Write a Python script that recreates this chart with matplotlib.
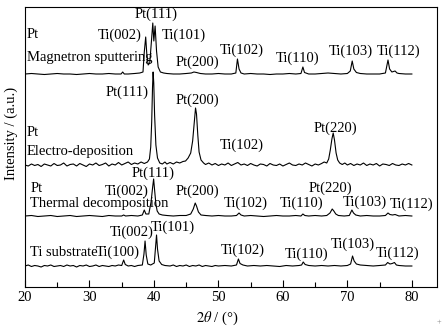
import numpy as np
import matplotlib
matplotlib.use('Agg')
import matplotlib.pyplot as plt

plt.rcParams['font.family'] = ['Liberation Serif', 'DejaVu Serif']
plt.rcParams['mathtext.fontset'] = 'stix'
plt.rcParams['font.size'] = 10.5

# XRD traces (2theta, stacked intensity)
magnetron = [(20, 213), (21, 213.5), (22, 213), (23, 212.5), (24, 213), (25, 213.5), (26, 213), (27, 213),
             (28, 212.5), (29, 213), (30, 213.5), (31, 213), (32, 213), (33, 213.5), (34, 213), (34.9, 213),
             (35.15, 215), (35.4, 213), (36, 213), (37, 213.5), (37.8, 214), (38.3, 215), (38.5, 235),
             (38.72, 250), (38.9, 232), (39.1, 222), (39.35, 224), (39.6, 245), (39.82, 264), (39.98, 246),
             (40.18, 261), (40.4, 236), (40.65, 220), (41.0, 215), (41.5, 214), (42, 213.5), (43, 213),
             (44, 213), (45, 213.5), (45.8, 214), (46.2, 215), (46.6, 214.5), (47.2, 213.5), (48, 213),
             (49, 213), (50, 213.5), (51, 213), (52, 213), (52.7, 214), (52.95, 228), (53.2, 218),
             (53.5, 214), (54, 213), (55, 213.5), (56, 213), (57, 213), (58, 212.5), (59, 213), (60, 213),
             (61, 213.5), (62, 213), (62.8, 213.5), (63.1, 220), (63.35, 214.5), (64, 213), (65, 213),
             (66, 213.5), (67, 214), (68, 213.5), (69, 213), (70, 213.5), (70.45, 216), (70.75, 226),
             (71.0, 218), (71.4, 214.5), (72, 213.5), (73, 213), (74, 213), (75, 213), (75.9, 214),
             (76.3, 227), (76.55, 218), (76.9, 215), (77.4, 216), (77.7, 214), (78, 213.5), (79, 213),
             (80, 213)]

electro = [(20, 122), (20.5, 121), (21, 123), (21.5, 121.5), (22, 122.5), (22.5, 120.5), (23, 123),
           (23.5, 122), (24, 121), (24.5, 123.5), (25, 121.5), (25.5, 122), (26, 124), (26.5, 121),
           (27, 122.5), (27.5, 123), (28, 121), (28.5, 123.5), (29, 122), (29.5, 120.5), (30, 123),
           (30.5, 122), (31, 124), (31.5, 121.5), (32, 122.5), (32.5, 124), (33, 121), (33.5, 123),
           (34, 122), (34.5, 124.5), (35, 122), (35.5, 123.5), (36, 125), (36.5, 122.5), (37, 124),
           (37.5, 123), (38, 125), (38.5, 123.5), (39, 125), (39.3, 128), (39.5, 140), (39.65, 165),
           (39.78, 200), (39.87, 215), (39.97, 204), (40.1, 172), (40.3, 142), (40.55, 129), (40.9, 124),
           (41.3, 123), (41.7, 125), (42, 123), (42.5, 124.5), (43, 123), (43.5, 125), (44, 124),
           (44.5, 125.5), (44.9, 126), (45.3, 129), (45.7, 134), (46.0, 146), (46.25, 165), (46.45, 179),
           (46.6, 173), (46.8, 152), (47.0, 135), (47.3, 127), (47.7, 124), (48, 122.5), (48.5, 124),
           (49, 122), (49.5, 123.5), (50, 121.5), (50.5, 123), (51, 122), (51.5, 124), (52, 121.5),
           (52.5, 123), (53, 124.5), (53.5, 122), (54, 123), (54.5, 121.5), (55, 123.5), (55.5, 122),
           (56, 121), (56.5, 123), (57, 122.5), (57.5, 121), (58, 123.5), (58.5, 122), (59, 121.5),
           (59.5, 123), (60, 121), (60.5, 122.5), (61, 124), (61.5, 122), (62, 121.5), (62.5, 123),
           (63, 122), (63.5, 124), (64, 122.5), (64.5, 121), (65, 123), (65.5, 122), (66, 123.5),
           (66.4, 125), (66.8, 124), (67.1, 128), (67.35, 137), (67.6, 148), (67.8, 154), (68.0, 147),
           (68.25, 134), (68.5, 127), (68.8, 124), (69.2, 122.5), (69.6, 124), (70, 122), (70.5, 123.5),
           (71, 121.5), (71.5, 123), (72, 122), (72.5, 124), (73, 121.5), (73.5, 123), (74, 122),
           (74.5, 123.5), (75, 121), (75.5, 123), (76, 122.5), (76.5, 121.5), (77, 123.5), (77.5, 122),
           (78, 121.5), (78.5, 123), (79, 122), (79.5, 123.5), (80, 122)]

thermal = [(20, 71), (21, 71.5), (22, 70.5), (23, 71), (24, 71.5), (25, 70.5), (26, 71), (27, 71.5),
           (28, 70.5), (29, 71), (30, 71.5), (31, 71), (32, 70.5), (33, 71.5), (34, 71), (35, 71),
           (35.3, 72), (35.6, 71), (36.5, 71.5), (37.5, 71), (38.2, 72), (38.5, 77), (38.75, 73),
           (39.2, 73), (39.55, 85), (39.8, 100), (39.95, 108), (40.1, 97), (40.3, 83), (40.5, 76),
           (40.8, 73), (41.3, 72), (42, 71.5), (43, 71), (44, 71.5), (45, 71.5), (45.7, 73), (46.1, 78),
           (46.4, 84), (46.6, 81), (46.9, 75), (47.3, 72), (48, 71.5), (49, 71), (50, 71.5), (51, 71),
           (52, 71), (52.8, 71.5), (53.2, 74), (53.5, 72), (54, 71), (55, 71.5), (56, 71), (57, 70.5),
           (58, 71), (59, 71.5), (60, 71), (61, 71), (62, 71.5), (62.8, 71), (63.1, 73), (63.4, 71.5),
           (64, 71), (65, 71.5), (66, 71), (66.8, 71.5), (67.3, 74), (67.65, 78), (67.9, 76), (68.2, 73),
           (68.6, 71.5), (69.5, 71), (70.3, 71.5), (70.7, 77), (70.95, 74), (71.3, 72), (72, 71),
           (73, 71.5), (74, 71), (75, 71), (75.9, 71.5), (76.3, 74), (76.6, 72.5), (77, 72), (77.4, 72.5),
           (78, 71), (79, 71.5), (80, 71)]

substrate = [(20, 21), (20.5, 22), (21, 20.5), (21.5, 21.5), (22, 21), (22.5, 20), (23, 21.5), (23.5, 21),
             (24, 22), (24.5, 20.5), (25, 21), (25.5, 21.5), (26, 20.5), (26.5, 22), (27, 21), (27.5, 21.5),
             (28, 20), (28.5, 21.5), (29, 21), (29.5, 22), (30, 20.5), (30.5, 21), (31, 22), (31.5, 20.5),
             (32, 21.5), (32.5, 21), (33, 20.5), (33.5, 21.5), (34, 21), (34.5, 22), (35, 21.5),
             (35.3, 27), (35.55, 22.5), (36, 21), (36.5, 21.5), (37, 20.5), (37.5, 21.5), (38.2, 22),
             (38.45, 33), (38.62, 46), (38.8, 32), (39.05, 23), (39.5, 22), (40.05, 24), (40.25, 40),
             (40.4, 52), (40.55, 38), (40.8, 26), (41.2, 22.5), (41.7, 21.5), (42.5, 21), (43, 22),
             (43.5, 20.5), (44, 21.5), (44.5, 21), (45, 22), (45.5, 20.5), (46, 21.5), (46.5, 21),
             (47, 22), (47.5, 20.5), (48, 21.5), (48.5, 21), (49, 20.5), (49.5, 21.5), (50, 21),
             (51, 21.5), (52, 21), (52.8, 22), (53.1, 28), (53.35, 23.5), (53.8, 22), (54.5, 21),
             (55.5, 21.5), (56.5, 21), (57.5, 21.5), (58.5, 21), (59.5, 20.5), (60.5, 21.5), (61.5, 21),
             (62.5, 21.5), (62.9, 22), (63.15, 25), (63.45, 22.5), (64, 21.5), (65, 21), (66, 21.5),
             (67, 21), (68, 21.5), (69, 21), (70, 21.5), (70.5, 23), (70.8, 31), (71.05, 26), (71.4, 23),
             (72, 22), (73, 21.5), (74, 21), (75, 21.5), (75.9, 22), (76.25, 24.5), (76.6, 23),
             (76.95, 23.5), (77.3, 24.5), (77.6, 22), (78, 21.5), (79, 21), (80, 21)]

# peak / sample labels: (text, 2theta, height, alignment)
labels = [
    ('Pt', 20.3, 252, 'left'), ('Magnetron sputtering', 20.3, 230, 'left'),
    ('Ti(002)', 34.7, 252, 'center'), ('Pt(111)', 40.3, 273, 'center'),
    ('Ti(101)', 44.65, 252, 'center'), ('Pt(200)', 46.7, 225, 'center'),
    ('Ti(102)', 53.6, 237, 'center'), ('Ti(110)', 62.2, 229, 'center'),
    ('Ti(103)', 70.5, 236, 'center'), ('Ti(112)', 78.0, 236, 'center'),

    ('Pt(111)', 35.8, 195, 'center'), ('Pt(200)', 46.8, 187, 'center'),
    ('Pt', 20.3, 155, 'left'), ('Electro-deposition', 20.3, 135, 'left'),
    ('Ti(102)', 53.6, 142, 'center'), ('Pt(220)', 68.1, 159, 'center'),

    ('Pt(111)', 39.85, 114, 'center'), ('Pt', 20.8, 99, 'left'),
    ('Ti(002)', 35.8, 96, 'center'), ('Pt(200)', 46.7, 96, 'center'),
    ('Thermal decomposition', 20.8, 84, 'left'), ('Ti(102)', 54.3, 84, 'center'),
    ('Ti(110)', 62.9, 84, 'center'), ('Pt(220)', 67.4, 99, 'center'),
    ('Ti(103)', 72.65, 85, 'center'), ('Ti(112)', 80.0, 83, 'center'),

    ('Ti(002)', 36.6, 55, 'center'), ('Ti(101)', 42.95, 60, 'center'),
    ('Ti substrate', 20.8, 35, 'left'), ('Ti(100)', 34.4, 35, 'center'),
    ('Ti(102)', 53.8, 37, 'center'), ('Ti(110)', 63.6, 33, 'center'),
    ('Ti(103)', 70.85, 43, 'center'), ('Ti(112)', 77.8, 34, 'center'),
]

fig = plt.figure(figsize=(4.42, 3.34), dpi=100)
ax = fig.add_axes([25 / 442, 47 / 334, 412 / 442, 280 / 334])

for trace in [magnetron, electro, thermal, substrate]:
    x, y = np.array(trace).T
    ax.plot(x, y, color='black', lw=0.8)

for txt, x, y, ha in labels:
    ax.text(x, y, txt, ha=ha, va='center', fontsize=10.5)

ax.set_xlim(20, 83.9)
ax.set_ylim(0, 280)
ax.set_xticks(range(20, 81, 10))
ax.set_xticks(range(25, 80, 10), minor=True)
ax.set_yticks([])
ax.tick_params(axis='x', which='both', direction='in', top=False, pad=3, labelsize=10.5)
ax.tick_params(axis='x', which='major', length=5, width=0.8)
ax.tick_params(axis='x', which='minor', length=3.5, width=0.8)
for s in ax.spines.values():
    s.set_linewidth(0.8)

ax.set_xlabel(r'$\mathit{2\theta}$ / (°)', fontsize=10.5)
ax.xaxis.set_label_coords(0.468, -0.082)
ax.set_ylabel('Intensity / (a.u.)', fontsize=10.5)
ax.yaxis.set_label_coords(-0.016, 0.55)

fig.text(0.993, 0.036, '+', fontsize=6, color='gray', ha='center', va='center')

plt.savefig('out.png', dpi=100)
